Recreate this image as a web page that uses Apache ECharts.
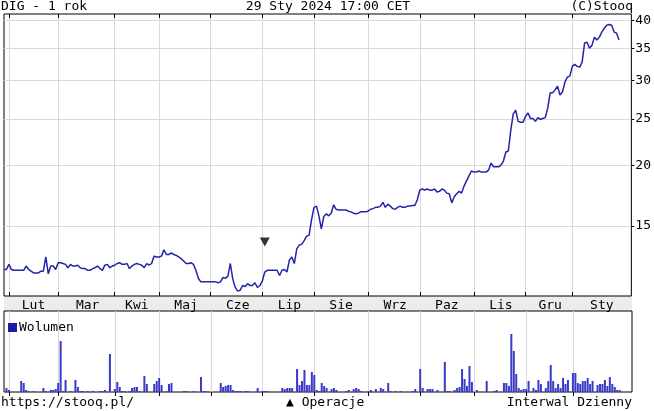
<!DOCTYPE html>
<html><head><meta charset="utf-8">
<script src="https://cdn.jsdelivr.net/npm/echarts@6/dist/echarts.min.js"></script>
<style>html,body{margin:0;padding:0;background:#fff}#c{width:654px;height:411px}</style>
</head><body><div id="c"></div>
<script>
// ---- data ----
const monthNames = ['Sty','Lut','Mar','Kwi','Maj','Cze','Lip','Sie','Wrz','Paz','Lis','Gru'];
const priceTicks = [15, 20, 25, 30, 35, 40];
const holidays = ['2023-04-07','2023-04-10','2023-05-01','2023-05-03','2023-06-08','2023-08-15','2023-11-01','2023-12-25','2023-12-26','2024-01-01'];
const firstDay = '2023-01-30';
const lastDay = '2024-01-29';
const prices = [
12.2,12.2,12.5,12.2,12.15,12.15,12.15,12.15,12.15,12.4,
12.2,12.1,12.0,12.0,12.0,12.1,12.1,12.95,11.95,12.4,
12.4,12.2,12.6,12.6,12.55,12.5,12.3,12.5,12.4,12.4,
12.45,12.3,12.25,12.25,12.15,12.15,12.25,12.3,12.4,12.25,
12.15,12.45,12.5,12.3,12.4,12.45,12.55,12.6,12.5,12.5,
12.55,12.25,12.4,12.5,12.55,12.5,12.45,12.3,12.55,12.45,
12.55,13.0,12.95,12.95,13.0,13.4,13.1,13.1,13.2,13.1,
13.05,12.95,12.85,12.7,12.55,12.55,12.6,12.5,12.15,11.7,
11.5,11.5,11.5,11.5,11.5,11.5,11.5,11.45,11.5,11.75,
11.7,11.8,12.55,11.65,11.2,11.0,11.05,11.3,11.25,11.4,
11.3,11.3,11.45,11.2,11.3,11.55,12.05,12.15,12.15,12.15,
12.15,12.15,11.85,12.15,12.2,12.05,12.75,12.95,12.55,13.45,
13.7,13.75,14.0,14.3,14.35,15.45,16.4,16.5,15.75,14.8,
15.7,15.9,15.75,15.95,16.6,16.25,16.2,16.2,16.2,16.2,
16.1,16.05,15.95,15.9,15.95,16.05,16.05,16.05,16.1,16.25,
16.3,16.4,16.4,16.5,16.8,16.4,16.65,16.5,16.3,16.25,
16.4,16.5,16.4,16.4,16.5,16.5,16.55,16.55,17.0,17.8,
17.9,17.8,17.9,17.8,17.8,17.9,17.65,17.7,17.9,17.8,
17.55,17.5,16.75,17.25,17.5,17.7,17.55,18.15,18.6,19.05,
19.5,19.4,19.4,19.5,19.4,19.4,19.4,19.6,20.25,19.9,
19.9,19.9,20.05,20.45,21.35,21.45,23.7,25.6,26.05,24.7,
24.6,24.6,25.3,25.7,25.05,25.05,24.7,25.15,24.95,25.05,
25.15,26.3,28.3,28.3,28.7,29.2,28.0,28.4,29.8,30.5,
30.65,32.1,32.4,32.1,32.0,32.75,35.9,36.0,35.0,35.5,
36.9,36.4,36.9,37.8,38.5,39.05,39.2,39.05,37.8,37.6,
36.4];
const volumes = [
0,4,2,0,0,0,0,11,9,2,
1,0,1,0,0,0,4,1,0,2,
2,3,9,51,1,12,0,1,0,12,
5,1,1,0,1,0,1,0,0,1,
1,2,0,38,0,3,10,5,1,1,
0,1,4,5,5,1,0,16,8,0,
0,8,11,14,7,0,1,8,9,0,
0,0,0,1,1,0,0,1,0,0,
15,1,1,0,0,0,0,0,9,5,
6,7,7,2,1,1,1,0,1,1,
0,0,0,4,0,1,1,1,0,0,
0,0,0,4,3,4,4,4,0,23,
7,11,22,7,7,20,17,2,1,9,
6,4,0,3,4,2,0,0,0,1,
2,0,3,4,3,1,0,0,1,2,
0,3,0,4,3,0,9,1,0,1,
0,1,0,0,0,0,1,3,0,23,
4,0,3,3,3,0,2,0,0,30,
1,1,0,2,4,5,23,13,6,26,
10,0,2,0,0,0,11,0,0,1,
2,0,0,9,9,6,58,41,18,4,
2,3,3,11,0,4,2,12,8,0,
4,11,27,11,4,8,4,14,8,12,
0,19,19,9,8,11,11,14,8,11,
0,7,8,8,12,6,15,8,5,2,
2];
const opIndex = [106];
const opLevel = [13.9];
const padCount = 5;

// ---- trading calendar ----
const dates = [];
{
  let t = Date.parse(firstDay + 'T00:00:00Z');
  const end = Date.parse(lastDay + 'T00:00:00Z');
  while (t <= end) {
    const d = new Date(t);
    const dow = d.getUTCDay();
    const s = d.toISOString().slice(0, 10);
    if (dow !== 0 && dow !== 6 && holidays.indexOf(s) < 0) dates.push(s);
    t += 86400000;
  }
}
const categories = dates.concat(Array.from({length: padCount}, (_, i) => 'pad' + i));
const monthStarts = [];
for (let i = 1; i < dates.length; i++) {
  if (dates[i].slice(0, 7) !== dates[i - 1].slice(0, 7)) monthStarts.push(i);
}
const labelAt = {};
monthStarts.forEach((s, k) => {
  const next = k + 1 < monthStarts.length ? monthStarts[k + 1] : categories.length - 1;
  labelAt[Math.round((s + next) / 2)] = monthNames[parseInt(dates[s].slice(5, 7), 10) - 1];
});
const isStart = i => monthStarts.indexOf(i) >= 0;

const FONT = '"DejaVu Sans Mono", "Liberation Mono", monospace';
const gridColor = '#d9d9d9';

const chart = echarts.init(document.getElementById('c'), null, {renderer: 'canvas'});
chart.setOption({
  animation: false,
  backgroundColor: '#fff',
  textStyle: {fontFamily: FONT},
  grid: [
    {left: 4, top: 14, width: 628, height: 282, show: true, borderColor: '#000', borderWidth: 1, backgroundColor: 'transparent'},
    {left: 4, top: 311, width: 628, height: 81, show: true, borderColor: '#000', borderWidth: 1, backgroundColor: 'transparent'}
  ],
  legend: {
    data: [{name: 'Wolumen', itemStyle: {color: '#1c1ca0'}}],
    left: 3, top: 316, icon: 'rect', itemWidth: 9, itemHeight: 9, selectedMode: false,
    textStyle: {fontFamily: FONT, fontSize: 13, color: '#000', padding: [0, 0, 0, -3]}
  },
  xAxis: [
    {
      gridIndex: 0, type: 'category', data: categories, boundaryGap: false, position: 'bottom',
      axisLine: {show: false},
      axisTick: {show: true, inside: true, length: 4, interval: i => isStart(i), lineStyle: {color: '#000'}},
      axisLabel: {show: true, interval: i => labelAt[i] !== undefined, formatter: (v, i) => labelAt[i] || '',
        fontFamily: FONT, fontSize: 13, color: '#000', margin: 3},
      splitLine: {show: true, interval: i => isStart(i), lineStyle: {color: gridColor, width: 1}}
    },
    {
      gridIndex: 0, type: 'category', data: categories, boundaryGap: false, position: 'top',
      axisLine: {show: false},
      axisTick: {show: true, inside: true, length: 4, interval: i => isStart(i), lineStyle: {color: '#000'}},
      axisLabel: {show: false}, splitLine: {show: false}
    },
    {
      gridIndex: 1, type: 'category', data: categories, boundaryGap: false, position: 'top',
      axisLine: {show: false},
      axisTick: {show: true, inside: true, length: 4, interval: i => isStart(i), lineStyle: {color: '#000'}},
      axisLabel: {show: false},
      splitLine: {show: true, interval: i => isStart(i), lineStyle: {color: gridColor, width: 1}}
    }
  ],
  yAxis: [
    {
      gridIndex: 0, type: 'log', min: 10.75, max: 41.2, position: 'right',
      axisLine: {show: false},
      axisTick: {show: true, customValues: priceTicks, length: 3, lineStyle: {color: '#000'}},
      axisLabel: {show: true, customValues: priceTicks, fontFamily: FONT, fontSize: 13, color: '#000', margin: 4},
      splitLine: {show: true, lineStyle: {color: gridColor, width: 1}},
      minorTick: {show: false}, minorSplitLine: {show: false}
    },
    {
      gridIndex: 1, type: 'value', min: 0, max: 81, show: false, splitLine: {show: false}
    }
  ],
  series: [
    {
      name: 'Kurs', type: 'line', xAxisIndex: 0, yAxisIndex: 0, data: prices,
      showSymbol: false, symbol: 'none', lineStyle: {color: '#2424aa', width: 1.5}, z: 5
    },
    {
      name: 'Operacje', type: 'scatter', xAxisIndex: 0, yAxisIndex: 0,
      data: opIndex.map((ix, k) => [ix, opLevel[k]]),
      symbol: 'triangle', symbolRotate: 180, symbolSize: [10, 9], itemStyle: {color: '#000'}, z: 6
    },
    {
      name: 'Wolumen', type: 'bar', xAxisIndex: 2, yAxisIndex: 1, data: volumes,
      barWidth: 2, itemStyle: {color: '#3a3ac8'}, z: 4
    }
  ],
  graphic: [
    {type: 'rect', shape: {x: 4, y: 296, width: 628, height: 15}, style: {fill: '#ececec'}, z: -10, silent: true},
    {type: 'text', left: 1, top: 0, style: {text: 'DIG - 1 rok', font: '13px ' + FONT, fill: '#000'}},
    {type: 'text', x: 328, y: 0, style: {text: '29 Sty 2024 17:00 CET', font: '13px ' + FONT, fill: '#000', textAlign: 'center'}},
    {type: 'text', x: 633, y: 0, style: {text: '(C)Stooq', font: '13px ' + FONT, fill: '#000', textAlign: 'right'}},
    {type: 'text', x: 1, y: 396, style: {text: 'https://stooq.pl/', font: '13px ' + FONT, fill: '#000'}},
    {type: 'text', x: 286, y: 396, style: {text: '\u25B2 Operacje', font: '13px ' + FONT, fill: '#000'}},
    {type: 'text', x: 632, y: 396, style: {text: 'Interwal Dzienny', font: '13px ' + FONT, fill: '#000', textAlign: 'right'}}
  ]
});
</script>
</body></html>
